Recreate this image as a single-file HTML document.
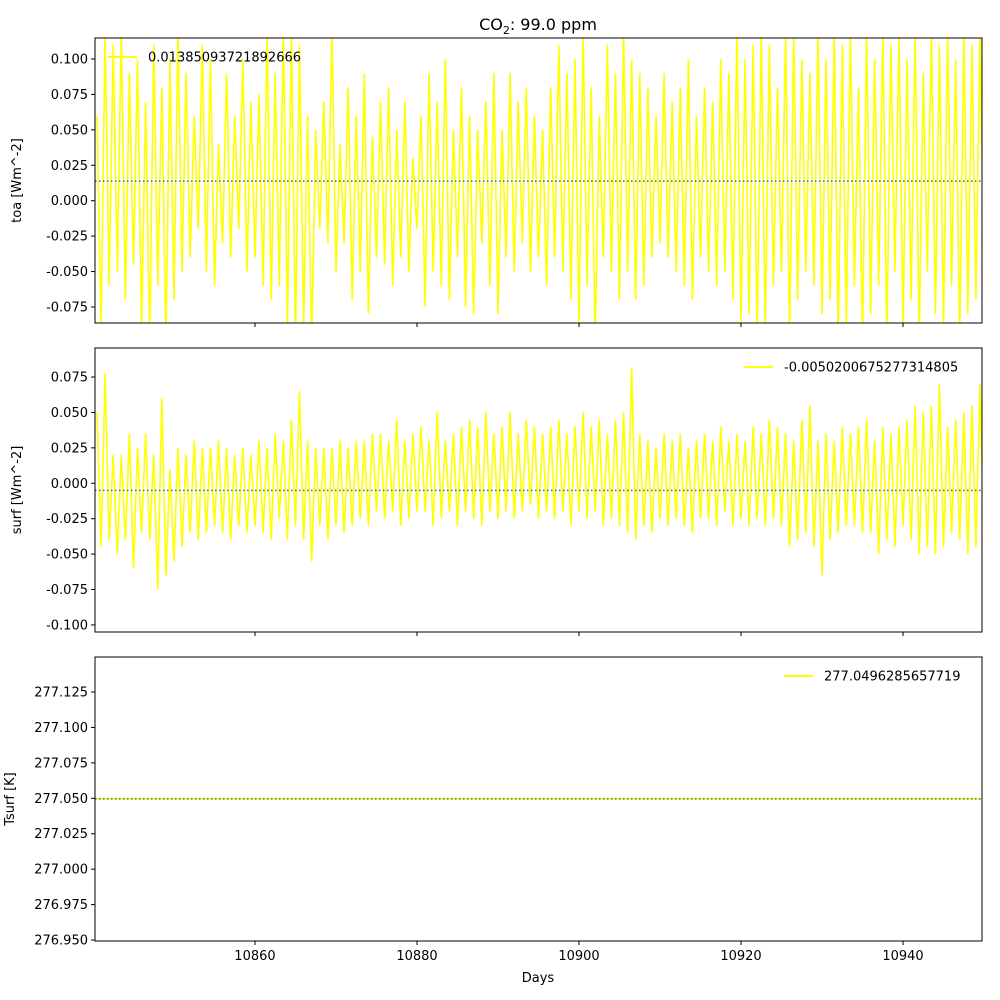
<!DOCTYPE html>
<html><head><meta charset="utf-8"><style>
body{margin:0;background:#fff}
svg{display:block;font-family:"DejaVu Sans","Liberation Sans",sans-serif}
</style></head><body>
<svg id="fig" width="1000" height="1000" viewBox="0 0 1000 1000"></svg>
<script>
const dayStart = 10840.5;
const dayStep = 0.5;
const xTicks = [10860, 10880, 10900, 10920, 10940];
const toaValues = [
0.06,-0.09,0.12,-0.06,0.11,-0.05,0.12,-0.07,0.09,-0.045,
0.1,-0.09,0.07,-0.1,0.11,-0.06,0.08,-0.1,0.1,-0.07,
0.12,-0.05,0.09,-0.04,0.06,-0.02,0.11,-0.05,0.1,-0.06,
0.04,-0.03,0.09,-0.04,0.06,-0.02,0.1,-0.05,0.07,-0.04,
0.075,-0.06,0.12,-0.07,0.09,-0.06,0.12,-0.09,0.12,-0.1,
0.11,-0.09,0.06,-0.1,0.05,-0.02,0.07,-0.03,0.12,-0.05,
0.04,-0.03,0.08,-0.07,0.06,-0.05,0.09,-0.08,0.045,-0.04,
0.07,-0.045,0.08,-0.06,0.05,-0.04,0.07,-0.05,0.03,-0.02,
0.06,-0.075,0.09,-0.05,0.07,-0.06,0.1,-0.07,0.05,-0.04,
0.08,-0.075,0.06,-0.08,0.05,-0.03,0.07,-0.06,0.09,-0.08,
0.05,-0.04,0.09,-0.05,0.07,-0.03,0.08,-0.05,0.06,-0.04,
0.05,-0.06,0.08,-0.04,0.11,-0.05,0.09,-0.07,0.1,-0.09,
0.12,-0.06,0.08,-0.1,0.06,-0.04,0.11,-0.05,0.09,-0.07,
0.12,-0.05,0.1,-0.07,0.09,-0.06,0.08,-0.04,0.06,-0.03,
0.09,-0.04,0.07,-0.05,0.08,-0.06,0.1,-0.07,0.06,-0.04,
0.08,-0.05,0.07,-0.06,0.1,-0.05,0.09,-0.07,0.12,-0.09,
0.1,-0.08,0.11,-0.1,0.12,-0.09,0.11,-0.06,0.08,-0.05,
0.12,-0.1,0.12,-0.07,0.1,-0.05,0.09,-0.06,0.12,-0.08,
0.1,-0.07,0.12,-0.1,0.11,-0.09,0.12,-0.06,0.08,-0.1,
0.12,-0.08,0.1,-0.06,0.12,-0.1,0.11,-0.05,0.12,-0.09,
0.1,-0.07,0.12,-0.1,0.09,-0.05,0.12,-0.08,0.11,-0.09,
0.12,-0.06,0.1,-0.1,0.12,-0.08,0.11,-0.07,0.12,-0.05];
const surfValues = [
0.05,-0.045,0.078,-0.04,0.02,-0.05,0.02,-0.04,0.035,-0.06,
0.025,-0.035,0.035,-0.04,0.02,-0.075,0.06,-0.065,0.01,-0.055,
0.025,-0.045,0.02,-0.035,0.03,-0.04,0.025,-0.035,0.025,-0.03,
0.03,-0.035,0.025,-0.04,0.02,-0.03,0.025,-0.035,0.02,-0.03,
0.03,-0.035,0.025,-0.04,0.035,-0.025,0.03,-0.04,0.045,-0.03,
0.065,-0.04,0.03,-0.055,0.025,-0.03,0.025,-0.04,0.025,-0.03,
0.03,-0.035,0.025,-0.03,0.03,-0.025,0.03,-0.03,0.035,-0.02,
0.035,-0.025,0.03,-0.02,0.045,-0.03,0.03,-0.025,0.035,-0.02,
0.04,-0.02,0.03,-0.03,0.05,-0.025,0.03,-0.02,0.035,-0.03,
0.04,-0.02,0.045,-0.025,0.04,-0.03,0.05,-0.02,0.035,-0.025,
0.04,-0.02,0.05,-0.025,0.035,-0.02,0.045,-0.015,0.04,-0.025,
0.035,-0.02,0.04,-0.025,0.045,-0.02,0.035,-0.03,0.04,-0.02,
0.05,-0.025,0.04,-0.02,0.045,-0.03,0.035,-0.025,0.045,-0.03,
0.05,-0.035,0.082,-0.04,0.035,-0.03,0.03,-0.035,0.025,-0.025,
0.035,-0.03,0.03,-0.025,0.035,-0.03,0.025,-0.035,0.03,-0.025,
0.035,-0.025,0.03,-0.03,0.04,-0.02,0.03,-0.03,0.035,-0.025,
0.03,-0.03,0.04,-0.025,0.035,-0.03,0.045,-0.025,0.04,-0.03,
0.035,-0.045,0.03,-0.04,0.045,-0.035,0.055,-0.045,0.03,-0.065,
0.035,-0.04,0.03,-0.035,0.04,-0.03,0.035,-0.03,0.04,-0.035,
0.045,-0.035,0.03,-0.05,0.04,-0.04,0.035,-0.045,0.04,-0.03,
0.045,-0.04,0.055,-0.05,0.05,-0.045,0.055,-0.05,0.07,-0.045,
0.04,-0.035,0.045,-0.04,0.05,-0.05,0.055,-0.045,0.07,-0.04];
const tsurfValue = 277.0496285657719;
const toaMean = 0.01385093721892666;
const surfMean = -0.0050200675277314805;
const toaTicks = [-0.075,-0.050,-0.025,0.000,0.025,0.050,0.075,0.100];
const surfTicks = [-0.100,-0.075,-0.050,-0.025,0.000,0.025,0.050,0.075];
const tsurfTicks = [276.950,276.975,277.000,277.025,277.050,277.075,277.100,277.125];

const NS = "http://www.w3.org/2000/svg";
const svg = document.getElementById('fig');
function mk(tag, attrs, parent) {
  const e = document.createElementNS(NS, tag);
  for (const k in attrs) e.setAttribute(k, attrs[k]);
  (parent || svg).appendChild(e);
  return e;
}
const X0 = 95, X1 = 982, D0 = 10840.25, D1 = 10949.75;
const xs = d => X0 + (d - D0) / (D1 - D0) * (X1 - X0);

const panels = [
  {top:38, bot:323, ymin:-0.0863, ymax:0.1148, ticks:toaTicks, vals:toaValues, mean:toaMean, label:'toa [Wm^-2]', name:'toa', legend:'left', legendText:'0.01385093721892666', lx:21},
  {top:348, bot:632, ymin:-0.105, ymax:0.0955, ticks:surfTicks, vals:surfValues, mean:surfMean, label:'surf [Wm^-2]', name:'surf', legend:'right', legendText:'-0.0050200675277314805', lx:21},
  {top:657, bot:941, ymin:276.9493, ymax:277.1497, ticks:tsurfTicks, vals:null, mean:tsurfValue, label:'Tsurf [K]', name:'tsurf', legend:'right', legendText:'277.0496285657719', lx:14}
];

// title
const title = mk('text', {x:538, y:30, 'text-anchor':'middle', 'font-size':16, fill:'#000'});


title.innerHTML = 'CO<tspan font-size="11" dy="4">2</tspan><tspan dy="-4">: 99.0 ppm</tspan>';

panels.forEach((p, pi) => {
  const g = mk('g', {});
  
  
  const ys = v => p.bot - (v - p.ymin) / (p.ymax - p.ymin) * (p.bot - p.top);
  const cid = 'clip' + pi;
  const cp = mk('clipPath', {id:cid}, g);
  mk('rect', {x:X0, y:p.top, width:X1 - X0, height:p.bot - p.top}, cp);

  // series
  let pts;
  if (p.vals) {
    pts = p.vals.map((v, i) => xs(dayStart + i * dayStep).toFixed(1) + ',' + ys(v).toFixed(1)).join(' ');
  } else {
    pts = xs(D0) + ',' + ys(p.mean) + ' ' + xs(D1) + ',' + ys(p.mean);
  }
  const line = mk('polyline', {points:pts, fill:'none', stroke:'#ffff00', 'stroke-width':1.6, 'clip-path':'url(#' + cid + ')'}, g);
  
  

  const ml = mk('line', {x1:X0, x2:X1, y1:ys(p.mean), y2:ys(p.mean), stroke:'#1f77b4', 'stroke-width':1.5, 'stroke-dasharray':'1.5,2.5'}, g);
  
  

  // frame
  const fr = mk('rect', {x:X0, y:p.top, width:X1 - X0, height:p.bot - p.top, fill:'none', stroke:'#000', 'stroke-width':1}, g);
  
  

  // y ticks
  p.ticks.forEach(t => {
    const y = ys(t);
    mk('line', {x1:X0 - 4, x2:X0, y1:y, y2:y, stroke:'#000'}, g);
    const tl = mk('text', {x:X0 - 7, y:y + 4.5, 'text-anchor':'end', 'font-size':13, fill:'#000'}, g);
    
    
    tl.textContent = t.toFixed(3);
  });
  // x ticks
  xTicks.forEach(t => {
    const x = xs(t);
    mk('line', {x1:x, x2:x, y1:p.bot, y2:p.bot + 4, stroke:'#000'}, g);
    if (pi === 2) {
      const xl = mk('text', {x:x, y:p.bot + 19, 'text-anchor':'middle', 'font-size':13, fill:'#000'}, g);
      
      
      xl.textContent = t;
    }
  });
  // y label
  const cy = (p.top + p.bot) / 2;
  const yl = mk('text', {x:p.lx, y:cy, 'text-anchor':'middle', 'font-size':13, fill:'#000', transform:'rotate(-90 ' + p.lx + ' ' + cy + ')'}, g);
  
  
  yl.textContent = p.label;

  // legend
  const lg = mk('g', {}, g);
  
  
  let lx, ly = p.top + 19;
  if (p.legend === 'left') lx = 108;
  else lx = pi === 1 ? 744 : 784;
  mk('line', {x1:lx, x2:lx + 29, y1:ly, y2:ly, stroke:'#ffff00', 'stroke-width':2}, lg);
  const lt = mk('text', {x:lx + 40, y:ly + 4.5, 'font-size':13, fill:'#000'}, lg);
  lt.textContent = p.legendText;
});

const xt = mk('text', {x:538, y:982, 'text-anchor':'middle', 'font-size':13, fill:'#000'});


xt.textContent = 'Days';
</script>
</body></html>
